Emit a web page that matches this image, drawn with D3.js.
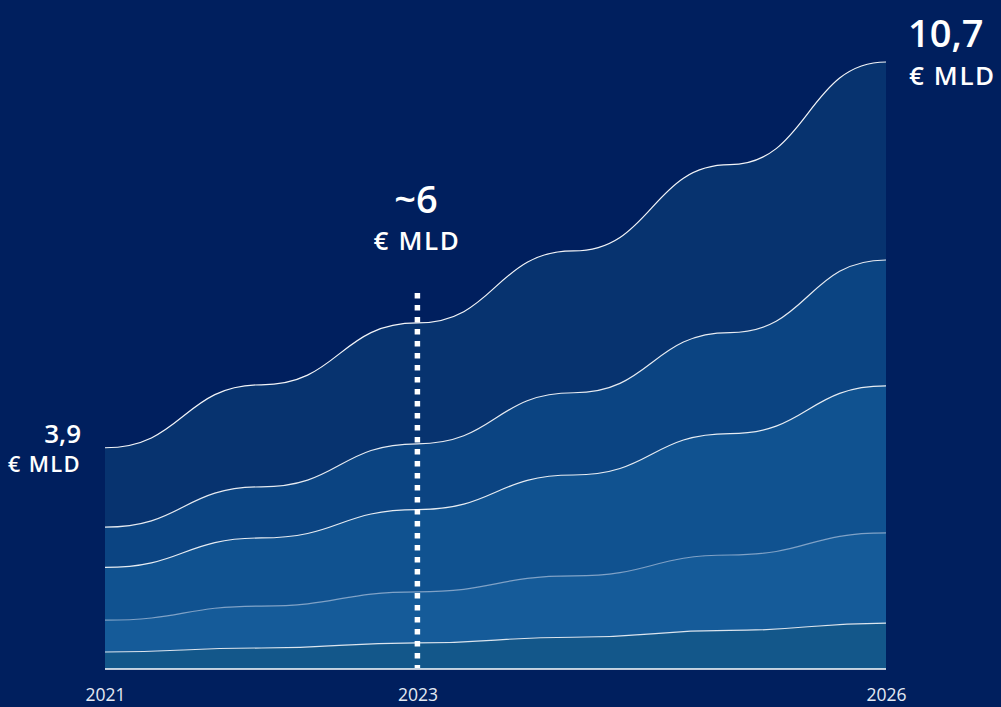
<!DOCTYPE html>
<html>
<head>
<meta charset="utf-8">
<script src="https://cdn.jsdelivr.net/npm/d3@7/dist/d3.min.js"></script>
<style>
  html, body { margin: 0; padding: 0; background: #001f5e; }
  svg { display: block; }
  text { font-family: "Open Sans", "Noto Sans", sans-serif; fill: #ffffff; }
</style>
</head>
<body>
<svg id="chart" width="1001" height="707"></svg>
<script>
// Years on the x axis
const years = [2021, 2022, 2023, 2024, 2025, 2026];
const tickYears = [2021, 2023, 2026];

// Stacked segments, bottom to top (€ bn)
const s1 = [0.30, 0.37, 0.46, 0.56, 0.68, 0.81];
const s2 = [0.56, 0.74, 0.90, 1.08, 1.33, 1.59];
const s3 = [0.93, 1.20, 1.45, 1.78, 2.14, 2.59];
const s4 = [0.71, 0.90, 1.16, 1.45, 1.78, 2.22];
const s5 = [1.40, 1.80, 2.13, 2.50, 2.96, 3.49];

// Headline totals
const startLabel = "3,9";
const midLabel = "~6";
const endLabel = "10,7";
const unitLabel = "€ MLD";

const keys = ["s1", "s2", "s3", "s4", "s5"];
const seriesArrays = { s1, s2, s3, s4, s5 };
const fills = ["#13578a", "#155b99", "#105290", "#0b4482", "#07336f"];
const lineColors = ["#ffffff", "#9cb8d6", "#ffffff", "#ffffff", "#ffffff"];
const lineOpacity = [0.85, 0.8, 0.9, 0.9, 0.95];

const table = years.map((yr, i) => {
  const row = { year: yr };
  keys.forEach(k => row[k] = seriesArrays[k][i]);
  return row;
});

const svg = d3.select("#chart");

const x = d3.scaleLinear().domain([2021, 2026]).range([105, 886]);
const y = d3.scaleLinear().domain([0, 10.7]).range([669, 62]);

const stack = d3.stack().keys(keys);
const layers = stack(table);

const area = d3.area()
  .curve(d3.curveBumpX)
  .x(d => x(d.data.year))
  .y0(d => y(d[0]))
  .y1(d => y(d[1]));

const line = d3.line()
  .curve(d3.curveBumpX)
  .x(d => x(d.data.year))
  .y(d => y(d[1]));

svg.append("g")
  .selectAll("path")
  .data(layers)
  .join("path")
  .attr("d", area)
  .attr("fill", (d, i) => fills[i]);

svg.append("g")
  .selectAll("path")
  .data(layers)
  .join("path")
  .attr("d", line)
  .attr("fill", "none")
  .attr("stroke", (d, i) => lineColors[i])
  .attr("stroke-opacity", (d, i) => lineOpacity[i])
  .attr("stroke-width", 1.2);

// Baseline
svg.append("line")
  .attr("x1", x(2021)).attr("x2", x(2026))
  .attr("y1", y(0)).attr("y2", y(0))
  .attr("stroke", "#ffffff")
  .attr("stroke-width", 1.6);

// Dotted marker at 2023
const totals = table.map(r => keys.reduce((s, k) => s + r[k], 0));
const i2023 = years.indexOf(2023);
svg.append("line")
  .attr("x1", x(2023)).attr("x2", x(2023))
  .attr("y1", y(totals[i2023]) - 30)
  .attr("y2", y(0) - 1)
  .attr("stroke", "#ffffff")
  .attr("stroke-width", 5.5)
  .attr("stroke-dasharray", "5.5 6.5");

// X axis labels
const xAxis = d3.axisBottom(x)
  .tickValues(tickYears)
  .tickFormat(d3.format("d"))
  .tickSize(0)
  .tickPadding(0);

const axisG = svg.append("g")
  .attr("transform", `translate(0, ${y(0)})`)
  .call(xAxis);
axisG.select(".domain").remove();
axisG.selectAll("text")
  .attr("y", 32)
  .attr("dy", 0)
  .style("font-size", "17.5px")
  .style("fill", "#e4eaf3");

// Value annotations
const ann = svg.append("g");

ann.append("text")
  .attr("x", 81).attr("y", 443)
  .attr("text-anchor", "end")
  .style("font-size", "26px").style("font-weight", 600)
  .text(startLabel);
ann.append("text")
  .attr("x", 81).attr("y", 472)
  .attr("text-anchor", "end")
  .style("font-size", "22px").style("font-weight", 600)
  .style("letter-spacing", "1.3px")
  .text(unitLabel);

ann.append("text")
  .attr("x", 416).attr("y", 213)
  .attr("text-anchor", "middle")
  .style("font-size", "38px").style("font-weight", 600)
  .text(midLabel);
ann.append("text")
  .attr("x", 417).attr("y", 250)
  .attr("text-anchor", "middle")
  .style("font-size", "26px").style("font-weight", 600)
  .style("letter-spacing", "1.6px")
  .text(unitLabel);

ann.append("text")
  .attr("x", 908).attr("y", 47)
  .attr("text-anchor", "start")
  .style("font-size", "38px").style("font-weight", 600)
  .text(endLabel);
ann.append("text")
  .attr("x", 909).attr("y", 85)
  .attr("text-anchor", "start")
  .style("font-size", "26px").style("font-weight", 600)
  .style("letter-spacing", "1.6px")
  .text(unitLabel);
</script>
</body>
</html>
